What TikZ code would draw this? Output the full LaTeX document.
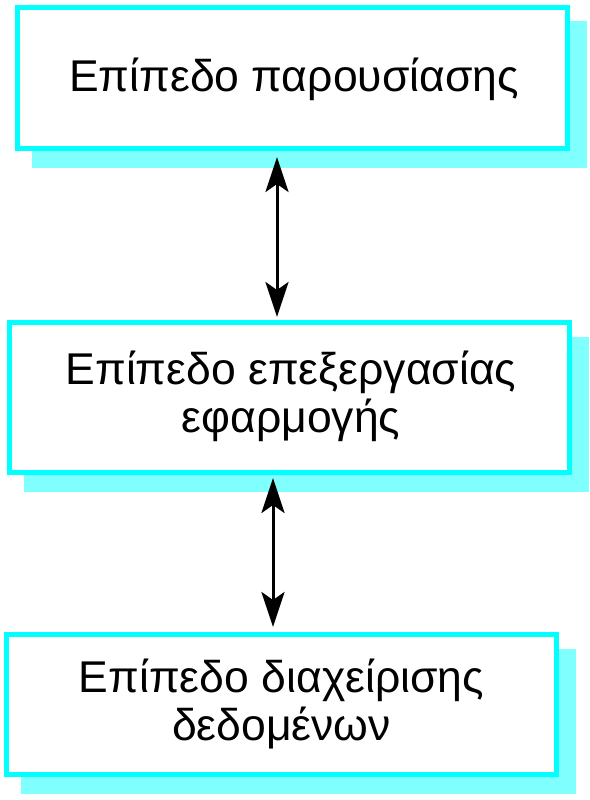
\documentclass[tikz,border=0pt]{standalone}
\usepackage{fontspec}
\setmainfont{Liberation Sans}
\usetikzlibrary{arrows.meta,calc,backgrounds}
\definecolor{boxc}{RGB}{0,255,255}
\definecolor{shadc}{RGB}{128,255,255}
\begin{document}
\begin{tikzpicture}[x=1pt,y=1pt,
  layerbox/.style={draw=boxc, line width=5pt, fill=white, rectangle, inner sep=0pt},
  layertext/.style={font=\fontsize{44.5}{48}\selectfont, align=center, anchor=base, inner sep=0pt},
  link/.style={line width=3pt, {Stealth[length=35pt,width=23pt,inset=8pt]}-{Stealth[length=35pt,width=23pt,inset=8pt]}}
]
\useasboundingbox (0,0) rectangle (589,-800);
\node[layerbox, minimum width=550pt, minimum height=141pt] (b1) at (292.5,-78) {};
\node[layerbox, minimum width=560pt, minimum height=150pt] (b2) at (289.5,-397.5) {};
\node[layerbox, minimum width=550pt, minimum height=140pt] (b3) at (281.5,-704.5) {};
\begin{scope}[on background layer]
  \foreach \b in {b1,b2,b3}
    \fill[shadc] ($(\b.south west)+(16.5,-16.5)$) rectangle ($(\b.north east)+(16.5,-16.5)$);
\end{scope}
\node[layertext] (t1) at (294,-92) {Επίπεδο παρουσίασης};
\node[layertext] (t2) at (291,-432) {Επίπεδο επεξεργασίας\\εφαρμογής};
\node[layertext] (t3) at (281.5,-740) {Επίπεδο διαχείρισης\\δεδομένων};
\coordinate (x1) at (277,0);
\coordinate (x2) at (273,0);
\draw[link, shorten <=6pt, shorten >=3pt] (b1.south -| x1) -- (b2.north -| x1);
\draw[link, shorten <=3pt, shorten >=5pt] (b2.south -| x2) -- (b3.north -| x2);
\end{tikzpicture}
\end{document}
